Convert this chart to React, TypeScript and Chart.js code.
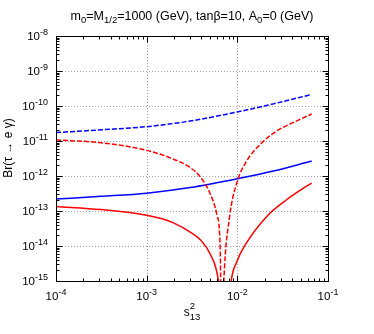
import React, { useEffect, useRef } from 'react';
import { Chart, registerables } from 'chart.js';
Chart.register(...registerables);

// s13^2 sample positions and Br values
const xBlue = [1e-4, 3.16e-4, 1e-3, 3.02e-3, 1e-2, 2.5e-2, 6.6e-2];
const blueDashed = [1.74e-11, 2.09e-11, 2.57e-11, 3.72e-11, 6.76e-11, 1.15e-10, 2.14e-10];
const blueSolid = [2.19e-13, 2.63e-13, 3.24e-13, 4.68e-13, 8.32e-13, 1.38e-12, 2.69e-12];

const xRedDashed = [1e-4, 3.16e-4, 1e-3, 1.9e-3, 3.02e-3, 3.9e-3, 5.0e-3, 5.94e-3, 6.46e-3, 6.75e-3, 7.1e-3, 8.18e-3, 1e-2, 1.27e-2, 1.78e-2, 2.73e-2, 4.17e-2, 6.6e-2];
const redDashed = [1.07e-11, 8.9e-12, 5.4e-12, 3.16e-12, 1.74e-12, 9.5e-13, 3.16e-13, 7.9e-14, 1.0e-14, 1e-17, 1.0e-15, 6.3e-14, 7.1e-13, 2.7e-12, 7.9e-12, 1.95e-11, 3.4e-11, 5.9e-11];

const xRedSolid = [1e-4, 3.16e-4, 1e-3, 1.48e-3, 1.97e-3, 3.02e-3, 3.9e-3, 5.0e-3, 6.19e-3, 7.3e-3, 8.55e-3, 9.86e-3, 1.22e-2, 2.1e-2, 3.5e-2, 4.93e-2, 6.6e-2];
const redSolid = [1.35e-13, 1.1e-13, 7.6e-14, 6.0e-14, 4.57e-14, 2.51e-14, 1.51e-14, 6.0e-15, 1.0e-15, 1e-17, 1.0e-15, 3.55e-15, 1.07e-14, 6.9e-14, 2.1e-13, 3.9e-13, 6.3e-13];

const xTickExps = [-4, -3, -2, -1];
const yTickExps = [-15, -14, -13, -12, -11, -10, -9, -8];

const FONT = '"Liberation Sans", Arial, Helvetica, sans-serif';

type Seg = { t: string; s: number; dy?: number };

function drawRich(ctx: CanvasRenderingContext2D, segs: Seg[], x: number, y: number, align: 'left' | 'center' | 'right') {
  let total = 0;
  const widths: number[] = [];
  for (const sg of segs) {
    ctx.font = `${sg.s}px ${FONT}`;
    const w = ctx.measureText(sg.t).width;
    widths.push(w);
    total += w;
  }
  let cx = align === 'left' ? x : align === 'center' ? x - total / 2 : x - total;
  ctx.textAlign = 'left';
  ctx.textBaseline = 'alphabetic';
  segs.forEach((sg, i) => {
    ctx.font = `${sg.s}px ${FONT}`;
    ctx.fillText(sg.t, cx, y + (sg.dy || 0));
    cx += widths[i];
  });
}

const decoPlugin = {
  id: 'deco',
  beforeDatasetsDraw(chart: any) {
    const { ctx, chartArea: a, scales } = chart;
    const xs = scales.x, ys = scales.y;
    ctx.save();
    ctx.strokeStyle = '#a0a0a0';
    ctx.lineWidth = 1;
    ctx.setLineDash([1, 2]);
    xTickExps.forEach((e) => {
      const px = Math.round(xs.getPixelForValue(Math.pow(10, e))) + 0.5;
      if (px <= a.left + 1 || px >= a.right - 1) return;
      ctx.beginPath(); ctx.moveTo(px, a.top); ctx.lineTo(px, a.bottom); ctx.stroke();
    });
    yTickExps.forEach((e) => {
      const py = Math.round(ys.getPixelForValue(Math.pow(10, e))) + 0.5;
      if (py <= a.top + 1 || py >= a.bottom - 1) return;
      ctx.beginPath(); ctx.moveTo(a.left, py); ctx.lineTo(a.right, py); ctx.stroke();
    });
    ctx.restore();
  },
  afterDatasetsDraw(chart: any) {
    const { ctx, chartArea: a, scales } = chart;
    const xs = scales.x, ys = scales.y;
    ctx.save();
    ctx.setLineDash([]);
    ctx.strokeStyle = '#000';
    ctx.lineWidth = 1;
    const L = Math.round(a.left) + 0.5, R = Math.round(a.right) + 0.5;
    const T = Math.round(a.top) + 0.5, B = Math.round(a.bottom) + 0.5;
    ctx.strokeRect(L, T, R - L, B - T);
    const MAJ = 6, MIN = 3;
    for (let e = xTickExps[0]; e <= xTickExps[xTickExps.length - 1]; e++) {
      for (let k = 1; k <= 9; k++) {
        const v = k * Math.pow(10, e);
        if (v > 1.0001e-1) break;
        const px = Math.round(xs.getPixelForValue(v)) + 0.5;
        const len = k === 1 ? MAJ : MIN;
        ctx.beginPath();
        ctx.moveTo(px, B); ctx.lineTo(px, B - len);
        ctx.moveTo(px, T); ctx.lineTo(px, T + len);
        ctx.stroke();
      }
    }
    for (let e = yTickExps[0]; e <= yTickExps[yTickExps.length - 1]; e++) {
      for (let k = 1; k <= 9; k++) {
        const v = k * Math.pow(10, e);
        if (v > 1.0001e-8) break;
        const py = Math.round(ys.getPixelForValue(v)) + 0.5;
        const len = k === 1 ? MAJ : MIN;
        ctx.beginPath();
        ctx.moveTo(L, py); ctx.lineTo(L + len, py);
        ctx.moveTo(R, py); ctx.lineTo(R - len, py);
        ctx.stroke();
      }
    }
    ctx.fillStyle = '#000';
    xTickExps.forEach((e) => {
      const px = xs.getPixelForValue(Math.pow(10, e));
      drawRich(ctx, [{ t: '10', s: 11.5 }, { t: String(e), s: 9, dy: -5 }], px, a.bottom + 18.5, 'center');
    });
    yTickExps.forEach((e) => {
      const py = ys.getPixelForValue(Math.pow(10, e));
      drawRich(ctx, [{ t: '10', s: 11.5 }, { t: String(e), s: 9, dy: -5 }], a.left - 8, py + 4, 'right');
    });
    const cx = (a.left + a.right) / 2;
    drawRich(ctx, [
      { t: 'm', s: 12.5 }, { t: '0', s: 9.5, dy: 3 },
      { t: '=M', s: 12.5 }, { t: '1/2', s: 9.5, dy: 3 },
      { t: '=1000 (GeV), tanβ=10, A', s: 12.5 }, { t: '0', s: 9.5, dy: 3 },
      { t: '=0 (GeV)', s: 12.5 },
    ], cx, 20, 'center');
    ctx.font = `12px ${FONT}`;
    const sw = ctx.measureText('s').width;
    ctx.font = `9.5px ${FONT}`;
    const subw = ctx.measureText('13').width;
    const sx = cx - (sw + subw) / 2;
    drawRich(ctx, [{ t: 's', s: 12 }], sx, 316, 'left');
    drawRich(ctx, [{ t: '2', s: 9.5 }], sx + sw, 309, 'left');
    drawRich(ctx, [{ t: '13', s: 9.5 }], sx + sw, 320, 'left');
    ctx.save();
    ctx.translate(12, 148);
    ctx.rotate(-Math.PI / 2);
    drawRich(ctx, [{ t: 'Br(τ → e γ)', s: 12 }], 0, 0, 'center');
    ctx.restore();
    ctx.restore();
  },
};

export default function App() {
  const ref = useRef<HTMLCanvasElement | null>(null);
  useEffect(() => {
    if (!ref.current) return;
    const mk = (xs: number[], ys: number[]) => xs.map((x, i) => ({ x, y: ys[i] }));
    const chart = new Chart(ref.current, {
      type: 'line',
      data: {
        datasets: [
          { data: mk(xBlue, blueDashed), borderColor: '#0000ff', borderDash: [5, 2], borderWidth: 1.5 },
          { data: mk(xRedDashed, redDashed), borderColor: '#ff0000', borderDash: [5, 2], borderWidth: 1.5 },
          { data: mk(xBlue, blueSolid), borderColor: '#0000ff', borderWidth: 1.5 },
          { data: mk(xRedSolid, redSolid), borderColor: '#ff0000', borderWidth: 1.5 },
        ] as any,
      },
      options: {
        animation: false,
        responsive: false,
        maintainAspectRatio: false,
        layout: { padding: { left: 56, right: 46, top: 36, bottom: 53 } },
        elements: { point: { radius: 0 }, line: { cubicInterpolationMode: 'monotone', fill: false } },
        plugins: { legend: { display: false }, title: { display: false }, tooltip: { enabled: false } },
        scales: {
          x: { type: 'logarithmic', min: 1e-4, max: 1e-1, display: false },
          y: { type: 'logarithmic', min: 1e-15, max: 1e-8, display: false },
        },
      } as any,
      plugins: [decoPlugin],
    });
    return () => chart.destroy();
  }, []);
  return (
    <div style={{ position: 'fixed', left: 0, top: 0, width: 374, height: 334, background: '#fff' }}>
      <canvas ref={ref} width={374} height={334} style={{ width: 374, height: 334 }} />
    </div>
  );
}
